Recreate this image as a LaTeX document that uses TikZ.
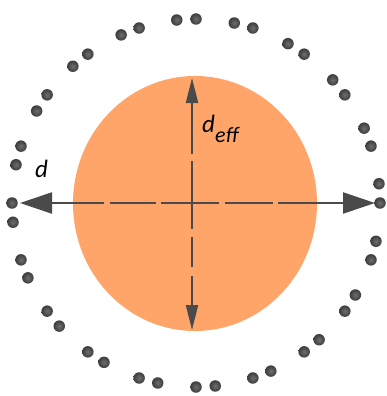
\documentclass[tikz,border=0pt]{standalone}
\usepackage{fontspec}
\setmainfont{Carlito}
\usetikzlibrary{arrows.meta}
\definecolor{orng}{HTML}{FFA56A}
\definecolor{dk}{HTML}{4A4A4A}
\definecolor{dotin}{HTML}{6E6E6E}
\definecolor{dotout}{HTML}{3C3C3C}
\tikzset{
  dim/.style={draw=dk, line width=2.2pt},
  bead/.style={circle, minimum size=11.5pt, inner sep=0pt, inner color=dotin, outer color=dotout},
  lbl/.style={font=\itshape\fontsize{25}{25}\selectfont, text=black, inner sep=0pt}
}
\begin{document}
\begin{tikzpicture}[x=1pt,y=-1pt]
\useasboundingbox (0,0) rectangle (386,396);
% orange particle
\fill[orng] (195,203.5) ellipse [x radius=122, y radius=127.5];
% ring of beads
\foreach \k in {0,...,19}{
  \node[bead] (a\k) at ({196+184*cos(18*\k)},{203-184*sin(18*\k)}) {};
  \node[bead] (b\k) at ({196+184*cos(18*\k+6)},{203-184*sin(18*\k+6)}) {};
}
% horizontal dimension d
\coordinate (L) at (20,203);
\coordinate (R) at (375,203);
\draw[dim, {Triangle[length=32pt,width=21pt]}-{Triangle[length=32pt,width=21pt]},
  dash pattern=on 53pt off 6pt on 46pt off 5pt on 58pt off 6pt on 48pt off 5pt on 120pt off 0pt] (L) -- (R);
% vertical dimension d_eff
\coordinate (T) at (192,78);
\coordinate (B) at (192,330);
\draw[dim, {Triangle[length=25pt,width=12pt]}-{Triangle[length=25pt,width=12pt]},
  dash pattern=on 52pt off 7pt on 68pt off 8pt on 30pt off 9pt on 60pt off 0pt] (T) -- (B);
% labels
\node[lbl, anchor=base west] (d) at (35,177) {d};
\node[lbl, anchor=base west] (deff) at (202,132) {d\raisebox{-10pt}{\fontsize{22}{22}\selectfont eff}};
\end{tikzpicture}
\end{document}
